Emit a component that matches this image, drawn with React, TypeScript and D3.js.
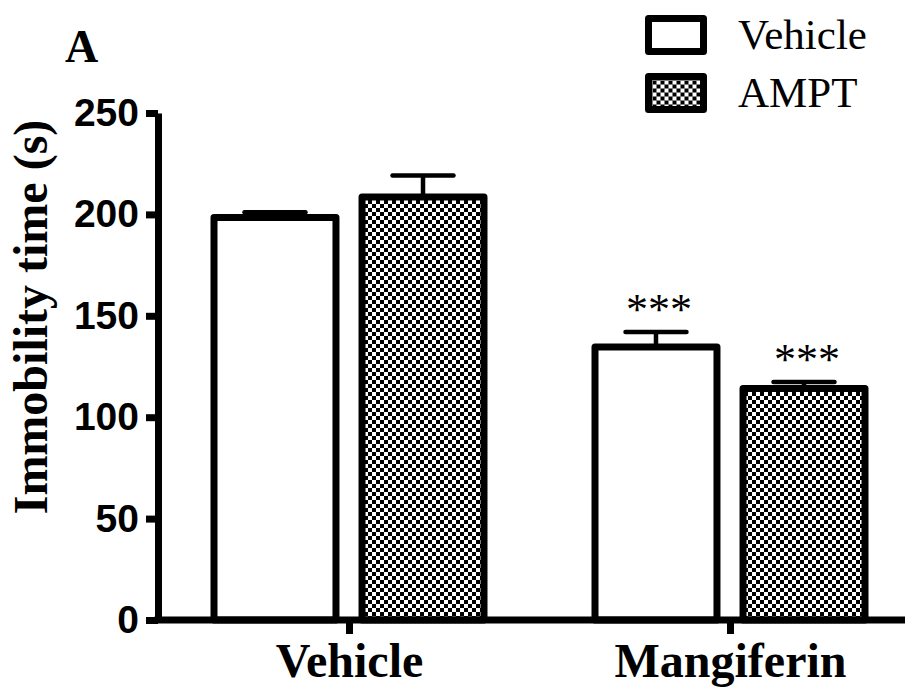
import React, { useEffect, useRef } from "react";
import * as d3 from "d3";

// groups on the x axis and the two treatments inside each group
const groups = ["Vehicle", "Mangiferin"];
const treatments = ["Vehicle", "AMPT"];
// mean immobility time (s), one value per group for each treatment
const vehicleMeans = [198.5, 134.6];
const amptMeans = [208.6, 114.2];
// SEM (upper error only)
const vehicleSem = [2.5, 7.4];
const amptSem = [10.6, 3.2];
// significance marks
const vehicleStars = ["", "***"];
const amptStars = ["", "***"];
const yTicks = [0, 50, 100, 150, 200, 250];

const W = 915;
const H = 692;

const App = () => {
  const yAxisRef = useRef<SVGGElement>(null);
  const xAxisRef = useRef<SVGGElement>(null);

  const y = d3.scaleLinear().domain([0, 250]).range([620, 113]);
  const x = d3.scalePoint().domain(groups).range([349, 730]);
  const inner = d3.scaleBand().domain(treatments).range([-135, 135]).paddingInner(0.176);

  const rows = groups.flatMap((g, i) => [
    { group: g, key: "Vehicle", mean: vehicleMeans[i], sem: vehicleSem[i], stars: vehicleStars[i] },
    { group: g, key: "AMPT", mean: amptMeans[i], sem: amptSem[i], stars: amptStars[i] },
  ]);

  useEffect(() => {
    const ya = d3.select(yAxisRef.current);
    ya.selectAll("*").remove();
    ya.call(d3.axisLeft(y).tickValues(yTicks).tickSize(12).tickSizeOuter(0).tickPadding(7));
    ya.select(".domain").attr("stroke-width", 7);
    ya.selectAll(".tick line").attr("stroke-width", 7);
    ya.selectAll(".tick text")
      .attr("font-family", "Liberation Sans, Arial, sans-serif")
      .attr("font-weight", "bold")
      .attr("font-size", 39)
      .attr("fill", "#000");
    ya.attr("font-family", null).attr("font-size", null);

    const xa = d3.select(xAxisRef.current);
    xa.selectAll("*").remove();
    xa.call(d3.axisBottom(x).tickSize(14).tickSizeOuter(0).tickPadding(9));
    xa.select(".domain").remove();
    xa.selectAll(".tick line").attr("stroke-width", 7);
    xa.selectAll(".tick text")
      .attr("font-family", "Liberation Serif, Times New Roman, serif")
      .attr("font-weight", "bold")
      .attr("font-size", 48)
      .attr("dy", "0.71em")
      .attr("fill", "#000");
    xa.attr("font-family", null).attr("font-size", null);
  }, []);

  const barW = inner.bandwidth();

  return (
    <svg width={W} height={H} style={{ position: "absolute", left: 0, top: 0, background: "#fff" }}>
      <defs>
        <pattern id="checker" patternUnits="userSpaceOnUse" width={8} height={8}>
          <rect width={8} height={8} fill="#fff" />
          <rect width={4} height={4} fill="#000" />
          <rect x={4} y={4} width={4} height={4} fill="#000" />
        </pattern>
      </defs>

      {rows.map((d, i) => {
        const cx = (x(d.group) as number) + (inner(d.key) as number) + barW / 2;
        const top = y(d.mean);
        const errTop = y(d.mean + d.sem);
        return (
          <g key={i}>
            <line x1={cx} x2={cx} y1={top} y2={errTop} stroke="#000" strokeWidth={4.5} />
            <line x1={cx - barW / 4} x2={cx + barW / 4} y1={errTop} y2={errTop}
              stroke="#000" strokeWidth={4.5} strokeLinecap="round" />
            <rect
              x={cx - barW / 2}
              y={top}
              width={barW}
              height={y(0) - top}
              fill={d.key === "AMPT" ? "url(#checker)" : "#fff"}
              stroke="#000"
              strokeWidth={7}
              strokeLinejoin="round"
            />
            {d.stars && (
              <text x={cx + 3} y={errTop - 8} textAnchor="middle"
                fontFamily="Liberation Serif, Times New Roman, serif" fontSize={44}>
                {d.stars}
              </text>
            )}
          </g>
        );
      })}

      {/* x axis line */}
      <line x1={154.5} x2={905} y1={y(0)} y2={y(0)} stroke="#000" strokeWidth={7} />
      <g ref={xAxisRef} transform={`translate(0,${y(0)})`} />
      <g ref={yAxisRef} transform="translate(158,0)" />

      <text transform="translate(47,317) rotate(-90)" textAnchor="middle"
        fontFamily="Liberation Serif, Times New Roman, serif" fontWeight="bold" fontSize={48}>
        Immobility time (s)
      </text>

      <text x={65} y={62} fontFamily="Liberation Serif, Times New Roman, serif" fontWeight="bold" fontSize={46}>
        A
      </text>

      {treatments.map((t, i) => (
        <g key={t} transform={`translate(648.5,${18.5 + i * 58})`}>
          <rect width={55} height={33} fill={t === "AMPT" ? "url(#checker)" : "#fff"}
            stroke="#000" strokeWidth={7} strokeLinejoin="round" />
          <text x={89.5} y={30} fontFamily="Liberation Serif, Times New Roman, serif" fontSize={43}>
            {t}
          </text>
        </g>
      ))}
    </svg>
  );
};

export default App;
